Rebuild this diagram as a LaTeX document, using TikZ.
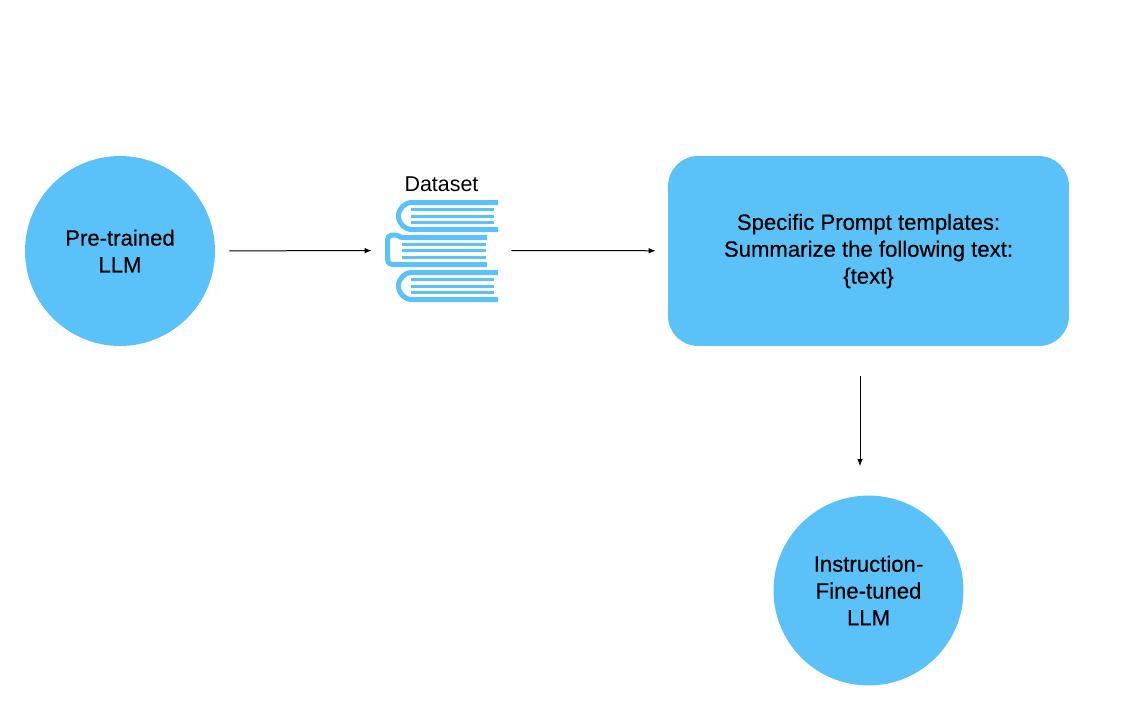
\documentclass[tikz,border=0pt]{standalone}
\usepackage{fontspec}
\setmainfont{Liberation Sans}
\newfontfamily\mediumfont[FakeBold=0.4]{Liberation Sans}
\usetikzlibrary{arrows.meta}
\definecolor{skyblue}{HTML}{5AC2F9}
\tikzset{
	bubble/.style={circle,fill=skyblue,minimum size=3.8cm,inner sep=0pt,align=center,font=\mediumfont\fontsize{12.6}{15.3}\selectfont},
	promptbox/.style={rectangle,rounded corners=0.6cm,fill=skyblue,minimum width=8.02cm,minimum height=3.8cm,align=center,font=\mediumfont\fontsize{12.6}{15.3}\selectfont},
	stack/.style={rectangle,minimum width=2.26cm,minimum height=2.04cm,inner sep=0pt},
	flow/.style={black,line width=0.02cm,-{Latex[length=0.14cm,width=0.11cm]}},
	cover/.style={skyblue,line width=0.1cm,rounded corners=0.27cm},
	page/.style={skyblue,line width=0.06cm}
}
\begin{document}
\begin{tikzpicture}[x=0.02cm,y=-0.02cm]
\useasboundingbox (0,0) rectangle (1125,721);
\node[bubble] (P) at (120,251) {Pre-trained\\LLM};
\node[stack] (B) at (441.5,250.5) {};
\node[promptbox] (S) at (868.5,251) {Specific Prompt templates:\\Summarize the following text:\\\{text\}};
\node[bubble] (T) at (868.5,590.5) {Instruction-\\Fine-tuned\\LLM};
\node (D) at (441.5,184) {\fontsize{12.2}{15}\selectfont Dataset};

% the books
\draw[cover] (498,202.5) -- (398.5,202.5) -- (398.5,229.5) -- (498,229.5);
\draw[cover] (498,272.5) -- (398.5,272.5) -- (398.5,299.5) -- (498,299.5);
\draw[skyblue,line width=0.1cm,line join=round] (487,237.5) -- (403,237.5) .. controls (399,237.5) and (399,235) .. (396,235) -- (392,235) .. controls (389,235) and (387.5,237) .. (387.5,240) -- (387.5,259) .. controls (387.5,262) and (389,264.5) .. (392,264.5) -- (396,264.5) .. controls (399,264.5) and (399,264.5) .. (403,264.5) -- (487,264.5);
\foreach \y in {209.5,216,222.5,279.5,286,292.5} \draw[page] (411,\y) -- (494,\y);
\foreach \y in {244,250.5,257} \draw[page] (402,\y) -- (486,\y);

\draw[flow,shorten <=0.28cm,shorten >=0.26cm] (P) -- (B);
\draw[flow,shorten <=0.26cm,shorten >=0.24cm] (B) -- (S);
\draw[flow,shorten <=0.6cm,shorten >=0.58cm] ([xshift=-0.17cm]S.south) -- ([xshift=-0.17cm]T.north);
\end{tikzpicture}
\end{document}
